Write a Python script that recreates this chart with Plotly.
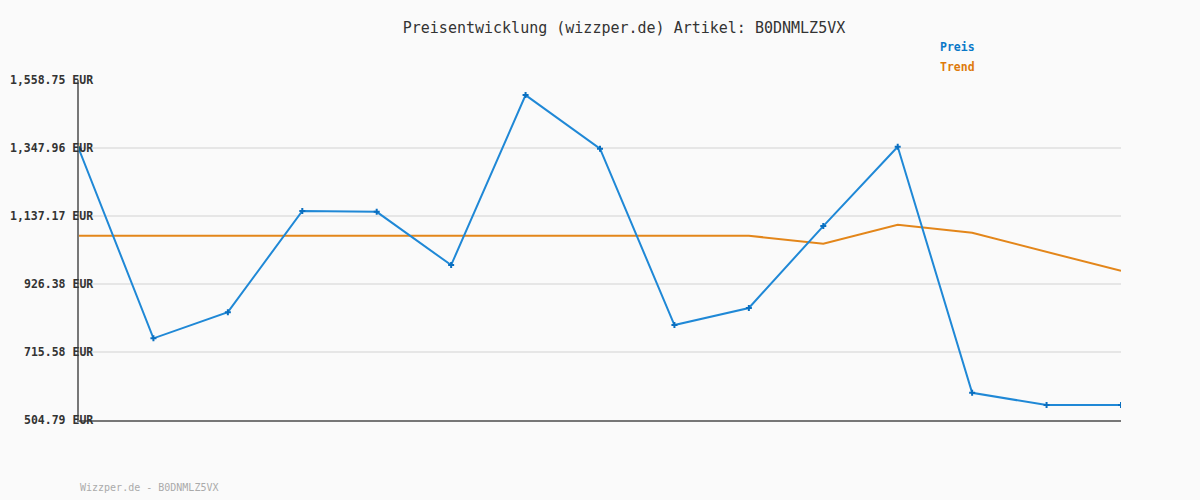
import plotly.graph_objects as go

points = list(range(15))
preis = [1344, 758, 839, 1153, 1150, 985, 1512, 1346, 799, 852, 1106, 1352, 589, 551, 551]
trend = [1076, 1076, 1076, 1076, 1076, 1076, 1076, 1076, 1076, 1076, 1051, 1110, 1085, 1026, 967]
tick_vals = [504.79, 715.58, 926.38, 1137.17, 1347.96, 1558.75]
tick_text = ["504.79 EUR", "715.58 EUR", "926.38 EUR", "1,137.17 EUR", "1,347.96 EUR", "1,558.75 EUR"]
title_text = "Preisentwicklung (wizzper.de) Artikel: B0DNMLZ5VX"
footer_text = "Wizzper.de - B0DNMLZ5VX"

MONO = "DejaVu Sans Mono"
BLUE = "#1f88d6"
ORANGE = "#e3861a"

fig = go.Figure()
fig.add_trace(go.Scatter(x=points, y=trend, mode="lines", name="Trend",
                         line=dict(color=ORANGE, width=2), hoverinfo="skip"))
fig.add_trace(go.Scatter(x=points, y=preis, mode="lines+markers", name="Preis",
                         line=dict(color=BLUE, width=2),
                         marker=dict(symbol="cross", size=5, color="#0a6fc0")))

annotations = []
for v, t in zip(tick_vals, tick_text):
    annotations.append(dict(x=0, xref="paper", y=v, yref="y", text="<b>" + t + "</b>", showarrow=False,
                            xanchor="right", yanchor="middle", xshift=16,
                            font=dict(family=MONO, size=11.5, color="#333333")))
leg_x = (938 - 79) / 1042
annotations += [
    dict(x=leg_x, xref="paper", y=(420 - 47) / 340, yref="paper", text="<b>Preis</b>",
         showarrow=False, xanchor="left", yanchor="middle",
         font=dict(family=MONO, size=11.5, color="#0a78c8")),
    dict(x=leg_x, xref="paper", y=(420 - 67) / 340, yref="paper", text="<b>Trend</b>",
         showarrow=False, xanchor="left", yanchor="middle",
         font=dict(family=MONO, size=11.5, color="#de7a0c")),
]
annotations.append(dict(x=(78 - 79) / 1042, xref="paper", y=(420 - 487) / 340, yref="paper",
                        text=footer_text, showarrow=False, xanchor="left", yanchor="middle",
                        font=dict(family=MONO, size=10, color="#aaaaaa")))

fig.update_layout(
    width=1200, height=500,
    margin=dict(l=79, r=79, t=80, b=80),
    paper_bgcolor="#fafafa", plot_bgcolor="#fafafa",
    showlegend=False,
    title=dict(text=title_text, x=624 / 1200, xanchor="center", y=1 - 28 / 500, yanchor="middle",
               font=dict(family=MONO, size=15, color="#333333")),
    xaxis=dict(range=[0, 14], showgrid=False, zeroline=False, showticklabels=False,
               showline=True, linecolor="#777777", linewidth=2, ticks=""),
    yaxis=dict(range=[504.79, 1558.75], tickvals=tick_vals, showticklabels=False,
               showgrid=True, gridcolor="#e6e6e6", gridwidth=2, zeroline=False,
               showline=True, linecolor="#777777", linewidth=2, ticks=""),
    annotations=annotations,
)

fig.write_html("out.html")
